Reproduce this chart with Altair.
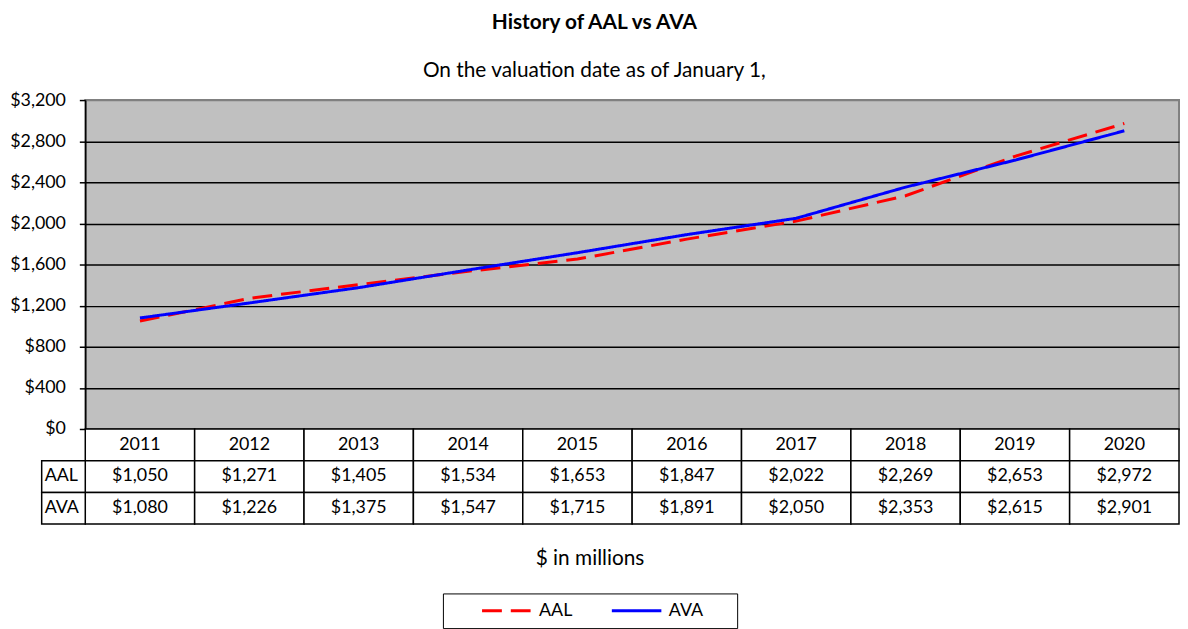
import altair as alt
import pandas as pd

# ---- data ----
years = ["2011", "2012", "2013", "2014", "2015", "2016", "2017", "2018", "2019", "2020"]
aal = [1050, 1271, 1405, 1534, 1653, 1847, 2022, 2269, 2653, 2972]
ava = [1080, 1226, 1375, 1547, 1715, 1891, 2050, 2353, 2615, 2901]
series_names = ["AAL", "AVA"]
series_colors = ["#FF0000", "#0000FF"]
series_dash = [[20, 9], [1, 0]]
y_ticks = [0, 400, 800, 1200, 1600, 2000, 2400, 2800, 3200]
row_names = ["Year", "AAL", "AVA"]

line_df = pd.DataFrame({
    "year": years * 2,
    "series": ["AAL"] * len(years) + ["AVA"] * len(years),
    "value": aal + ava,
})

cells = []
for y in years:
    cells.append({"row": "Year", "year": y, "text": y})
for name, vals in (("AAL", aal), ("AVA", ava)):
    for y, v in zip(years, vals):
        cells.append({"row": name, "year": y, "text": f"${v:,}"})
cell_df = pd.DataFrame(cells)
head_df = pd.DataFrame({"row": series_names})

FONT = "Lato"
W = 1104

legend = alt.Legend(
    title=None,
    orient="none",
    legendX=361,
    legendY=498,
    direction="horizontal",
    symbolType="stroke",
    symbolSize=2500,
    symbolStrokeWidth=3,
    symbolOffset=30,
    clipHeight=19,
    labelFont=FONT,
    labelFontSize=18,
    labelColor="black",
    labelOffset=6,
    labelExpr="datum.label == 'AVA' ? 'AVA\u2800\u2800' : datum.label",
    columnPadding=8,
    strokeColor="black",
    padding=8,
)

enc_x = alt.X("year:O", axis=None, scale=alt.Scale(domain=years))
enc_y = alt.Y(
    "value:Q",
    scale=alt.Scale(domain=[0, 3200], nice=False),
    axis=alt.Axis(
        values=y_ticks,
        labelExpr="'$' + format(datum.value, ',')",
        title=None,
        tickSize=6,
        tickColor="black",
        tickWidth=1.5,
        domainColor="black",
        domainWidth=1.5,
        labelPadding=14,
        labelFont=FONT,
        labelFontSize=18,
        labelColor="black",
        gridColor={"condition": {"test": "datum.value == 3200", "value": "#808080"}, "value": "black"},
        gridWidth=1.5,
        minExtent=76,
        maxExtent=76,
    ),
)

main = alt.Chart(line_df).mark_line(strokeWidth=3).encode(
    x=enc_x,
    y=enc_y,
    color=alt.Color("series:N", scale=alt.Scale(domain=series_names, range=series_colors), legend=legend),
    strokeDash=alt.StrokeDash("series:N", scale=alt.Scale(domain=series_names, range=series_dash), legend=legend),
).properties(
    width=W,
    height=332,
    view=alt.ViewBackground(fill="#C0C0C0", stroke="#808080", strokeWidth=2),
)

xt = alt.X(
    "year:N",
    scale=alt.Scale(domain=years, paddingInner=0, paddingOuter=0),
    axis=alt.Axis(
        title="$ in millions",
        labels=False,
        ticks=False,
        domain=False,
        titleFont=FONT,
        titleFontSize=21,
        titleFontWeight="normal",
        titleColor="black",
        titlePadding=24,
        titleX=W / 2 - 43,
    ),
)
yt = alt.Y("row:N", scale=alt.Scale(domain=row_names, paddingInner=0, paddingOuter=0), axis=None)

cells_rect = alt.Chart(cell_df).mark_rect(fill="white", stroke="black", strokeWidth=1.5).encode(x=xt, y=yt)
cells_text = alt.Chart(cell_df).mark_text(font=FONT, fontSize=18, color="black").encode(x=xt, y=yt, text="text:N")
head_rect = alt.Chart(head_df).mark_rect(fill="white", stroke="black", strokeWidth=1.5).encode(
    x=alt.value(-44), x2=alt.value(0), y=yt
)
head_text = alt.Chart(head_df).mark_text(font=FONT, fontSize=18, align="left", color="black").encode(
    x=alt.value(-41), y=yt, text="row:N"
)
table = alt.layer(cells_rect, cells_text, head_rect, head_text).properties(width=W, height=96)

chart = alt.vconcat(main, table, spacing=0, bounds="flush").properties(
    title=alt.TitleParams(
        text="History of AAL vs AVA",
        subtitle="On the valuation date as of January 1,",
        font=FONT,
        fontSize=21,
        fontWeight="bold",
        color="black",
        subtitleFont=FONT,
        subtitleFontSize=21,
        subtitleColor="black",
        subtitlePadding=28,
        anchor="middle",
        offset=9,
    ),
    padding={"left": 0, "top": 1, "right": 0, "bottom": 0},
    background="white",
).configure_view(strokeWidth=0)

chart.save("out.html", embed_options={"renderer": "svg", "actions": False})
